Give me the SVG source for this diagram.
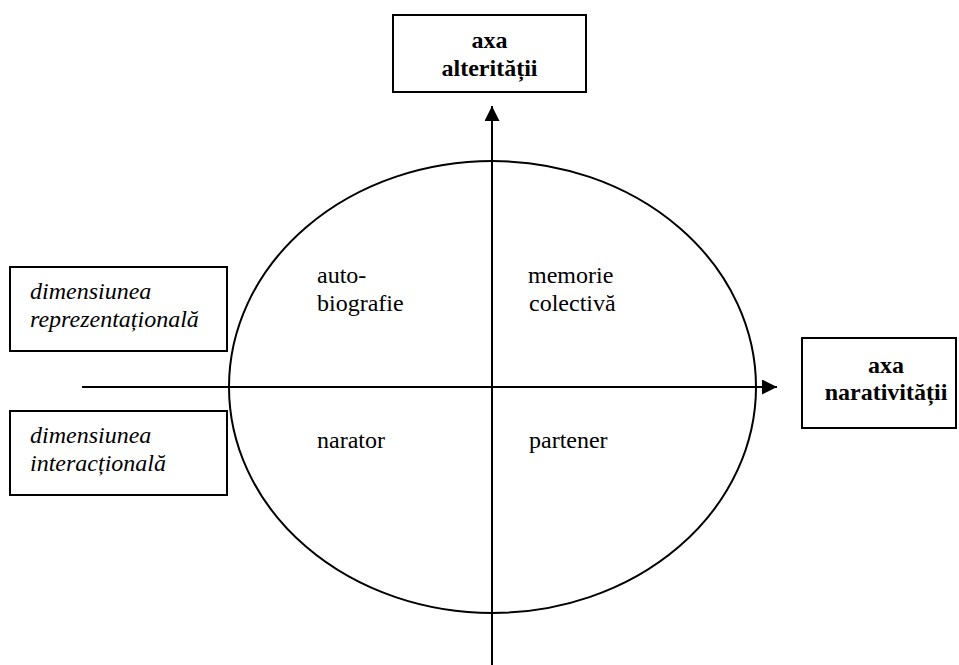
<svg xmlns="http://www.w3.org/2000/svg" width="959" height="665" viewBox="0 0 959 665">
<style>
.box{fill:#fff;stroke:#000;stroke-width:2}
.ln{stroke:#000;stroke-width:2;fill:none}
.t{font-family:"Liberation Serif","Times New Roman",serif;font-size:24px;fill:#000}
.b{font-weight:bold;text-anchor:middle}
.i{font-style:italic}
</style>
<defs>
<marker id="ah" viewBox="0 0 10 10" refX="10" refY="5" markerWidth="15" markerHeight="15" markerUnits="userSpaceOnUse" orient="auto">
<path d="M0,0 L10,5 L0,10 Z" fill="#000"/>
</marker>
</defs>
<g id="connectors">
<ellipse class="ln" cx="492.5" cy="387" rx="263.5" ry="226"/>
<line class="ln" x1="82" y1="387" x2="777" y2="387" marker-end="url(#ah)"/>
<line class="ln" x1="492" y1="665" x2="492" y2="106" marker-end="url(#ah)"/>
</g>
<g id="axa-alteritatii">
<rect class="box" x="393" y="15" width="193" height="77"/>
<text class="t b" x="489.5" y="48">axa</text>
<text class="t b" x="489.5" y="76">alterității</text>
</g>
<g id="axa-narativitatii">
<rect class="box" x="802" y="338" width="154" height="90"/>
<text class="t b" x="886" y="373">axa</text>
<text class="t b" x="886" y="400">narativității</text>
</g>
<g id="dim-reprezentationala">
<rect class="box" x="10" y="267" width="217" height="84"/>
<text class="t i" x="30" y="299">dimensiunea</text>
<text class="t i" x="30" y="327">reprezentațională</text>
</g>
<g id="dim-interactionala">
<rect class="box" x="10" y="411" width="217" height="84"/>
<text class="t i" x="30" y="443">dimensiunea</text>
<text class="t i" x="30" y="471">interacțională</text>
</g>
<g id="q-autobiografie">
<text class="t" x="317" y="283">auto-</text>
<text class="t" x="317" y="311">biografie</text>
</g>
<g id="q-memorie">
<text class="t" x="528" y="283">memorie</text>
<text class="t" x="529" y="311">colectivă</text>
</g>
<g id="q-narator">
<text class="t" x="317" y="448">narator</text>
</g>
<g id="q-partener">
<text class="t" x="529" y="448">partener</text>
</g>
</svg>
